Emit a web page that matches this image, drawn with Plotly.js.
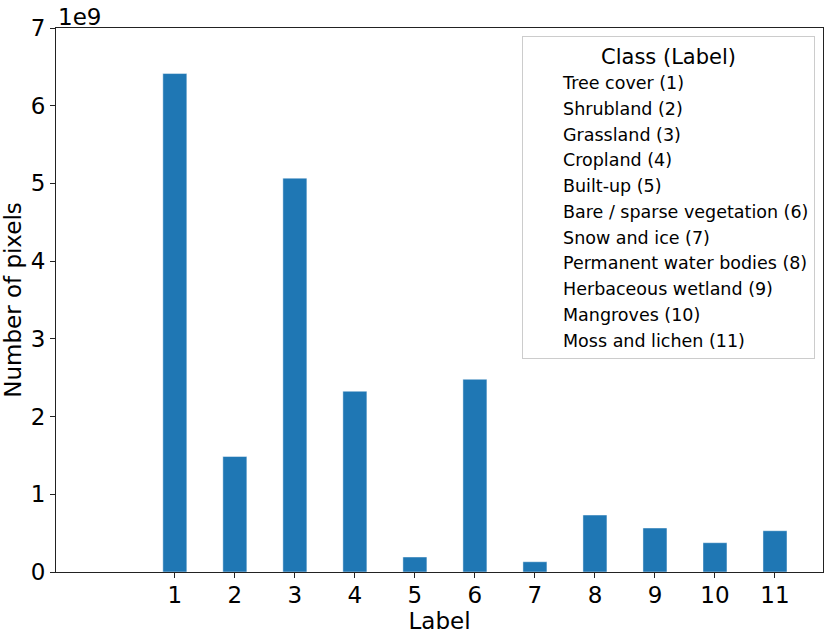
<!DOCTYPE html>
<html>
<head>
<meta charset="utf-8">
<script src="https://cdn.plot.ly/plotly-3.0.1.min.js"></script>
<style>html,body{margin:0;padding:0;background:#fff}#chart{width:831px;height:636px}</style>
</head>
<body>
<div id="chart"></div>
<script>
const labels = [1, 2, 3, 4, 5, 6, 7, 8, 9, 10, 11];
const pixelCounts = [6.414e9, 1.486e9, 5.068e9, 2.326e9, 0.193e9, 2.48e9, 0.132e9, 0.733e9, 0.566e9, 0.377e9, 0.531e9];
const classNames = [
  "Tree cover (1)", "Shrubland (2)", "Grassland (3)", "Cropland (4)", "Built-up (5)",
  "Bare / sparse vegetation (6)", "Snow and ice (7)", "Permanent water bodies (8)",
  "Herbaceous wetland (9)", "Mangroves (10)", "Moss and lichen (11)"
];
const yTickVals = [0, 1e9, 2e9, 3e9, 4e9, 5e9, 6e9, 7e9];
const yTickText = ["0", "1", "2", "3", "4", "5", "6", "7"];

const FONT = "DejaVu Sans, Liberation Sans, sans-serif";

const traces = [{
  type: "bar",
  x: labels,
  y: pixelCounts,
  width: 0.4,
  marker: {color: "#1f77b4", line: {color: "rgba(255,255,255,0.45)", width: 1}},
  showlegend: false,
  hoverinfo: "x+y"
}];
classNames.forEach(n => traces.push({
  type: "scatter", mode: "lines", x: [null], y: [null], name: n,
  line: {color: "rgba(0,0,0,0)", width: 0}, showlegend: true
}));

const layout = {
  width: 831, height: 636,
  margin: {l: 56, r: 8, t: 28, b: 64},
  paper_bgcolor: "#fff", plot_bgcolor: "#fff",
  font: {family: FONT, color: "#000"},
  xaxis: {
    range: [-0.98, 11.8],
    tickvals: labels, ticktext: labels.map(String),
    showgrid: false, zeroline: false,
    showline: true, linecolor: "#222", linewidth: 1, mirror: true,
    ticks: "outside", ticklen: 5, tickcolor: "#222",
    ticklabelstandoff: -3,
    tickfont: {size: 23, family: FONT},
    title: {text: "Label", font: {size: 23, family: FONT}, standoff: 0}
  },
  yaxis: {
    range: [0, 7e9],
    tickvals: yTickVals, ticktext: yTickText,
    showgrid: false, zeroline: false,
    showline: true, linecolor: "#222", linewidth: 1, mirror: true,
    ticks: "outside", ticklen: 5, tickcolor: "#222",
    tickfont: {size: 23, family: FONT},
    title: {text: "Number of pixels", font: {size: 23, family: FONT}, standoff: 2}
  },
  legend: {
    x: 0.9896, xanchor: "right", y: 0.985, yanchor: "top",
    bgcolor: "rgba(255,255,255,0.85)", bordercolor: "#cccccc", borderwidth: 1,
    font: {size: 17.5, family: FONT},
    title: {text: "Class (Label)", side: "top center", font: {size: 21, family: FONT}}
  },
  annotations: [{
    text: "1e9", xref: "paper", yref: "paper", x: 0, y: 1,
    xanchor: "left", yanchor: "bottom", showarrow: false,
    font: {size: 23, family: FONT}, yshift: -4
  }]
};

Plotly.newPlot("chart", traces, layout, {displayModeBar: false, staticPlot: true});
</script>
</body>
</html>
